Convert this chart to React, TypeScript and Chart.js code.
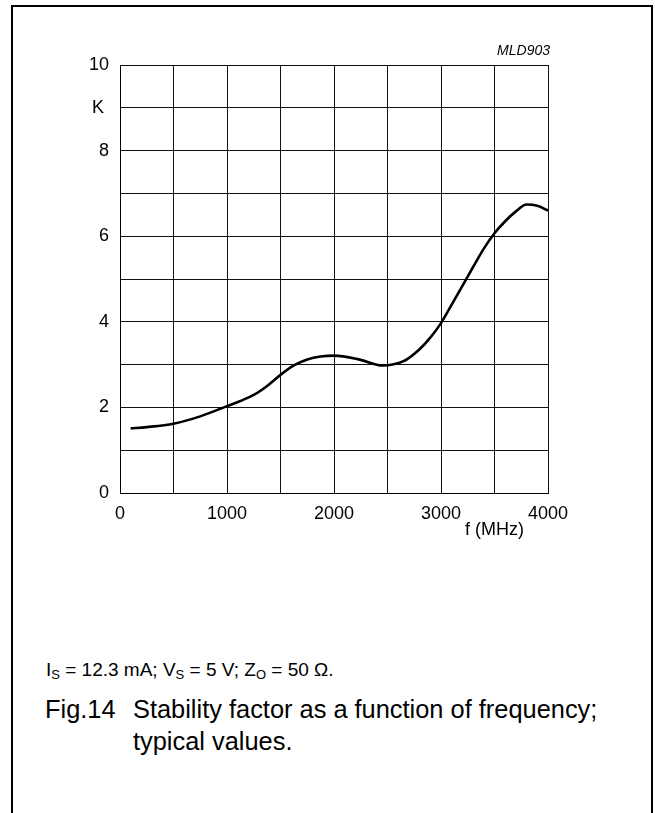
import React, { useEffect, useRef } from "react";
import { Chart, registerables } from "chart.js";

Chart.register(...registerables);

const freqMHz = [100, 250, 500, 750, 1000, 1125, 1250, 1375, 1500, 1625, 1750, 1875, 2000, 2250, 2450, 2650, 2800, 2900, 3000, 3100, 3200, 3300, 3400, 3500, 3600, 3700, 3800, 3900, 4000];
const stabilityK = [1.51, 1.54, 1.62, 1.79, 2.03, 2.15, 2.29, 2.5, 2.76, 2.98, 3.12, 3.19, 3.21, 3.11, 2.98, 3.08, 3.36, 3.63, 3.97, 4.4, 4.84, 5.28, 5.71, 6.07, 6.35, 6.58, 6.74, 6.71, 6.6];
const xTickLabels = ["0", "1000", "2000", "3000", "4000"];
const yTickLabels = ["0", "2", "4", "6", "8", "10"];

const FONT = "'Liberation Sans', Arial, Helvetica, sans-serif";

export default function App() {
  const ref = useRef<HTMLCanvasElement | null>(null);

  useEffect(() => {
    if (!ref.current) return;
    const chart = new Chart(ref.current, {
      type: "line",
      data: {
        datasets: [
          {
            data: freqMHz.map((f, i) => ({ x: f, y: stabilityK[i] })),
            borderColor: "#000",
            borderWidth: 2.6,
            pointRadius: 0,
            cubicInterpolationMode: "monotone",
            fill: false,
          },
        ],
      },
      options: {
        animation: false,
        responsive: false,
        maintainAspectRatio: false,
        layout: { padding: { left: 0, top: 65, right: 107, bottom: 0 } },
        plugins: { legend: { display: false }, tooltip: { enabled: false } },
        scales: {
          x: {
            type: "linear",
            min: 0,
            max: 4000,
            afterFit: (s: any) => {
              s.height = 67;
            },
            border: { display: true, color: "#000", width: 1 },
            grid: { color: "#111", lineWidth: 1, drawTicks: false },
            ticks: {
              stepSize: 500,
              padding: 10,
              color: "#000",
              font: { size: 18, family: FONT },
              maxRotation: 0,
              autoSkip: false,
              callback: (v: any) => {
                const s = String(v);
                return xTickLabels.includes(s) ? s : "";
              },
            },
          },
          y: {
            type: "linear",
            min: 0,
            max: 10,
            afterFit: (s: any) => {
              s.width = 120;
            },
            border: { display: true, color: "#000", width: 1 },
            grid: { color: "#111", lineWidth: 1, drawTicks: false },
            ticks: {
              stepSize: 1,
              padding: 11,
              color: "#000",
              font: { size: 18, family: FONT },
              autoSkip: false,
              callback: (v: any) => {
                const s = String(v);
                if (yTickLabels.includes(s)) return s;
                if (v === 9) return "K ";
                return "";
              },
            },
          },
        },
      },
    });
    return () => chart.destroy();
  }, []);

  const abs = (extra: React.CSSProperties): React.CSSProperties => ({
    position: "absolute",
    fontFamily: FONT,
    color: "#000",
    whiteSpace: "nowrap",
    margin: 0,
    ...extra,
  });

  const subStyle: React.CSSProperties = { fontSize: 13, verticalAlign: "-3px", lineHeight: 0 };

  return (
    <div style={{ position: "absolute", left: 0, top: 0, width: 655, height: 813, overflow: "hidden", background: "#fff" }}>
      <div
        style={{
          position: "absolute",
          left: 11,
          top: 5,
          width: 642,
          height: 830,
          boxSizing: "border-box",
          border: "2px solid #000",
          borderBottom: "none",
        }}
      />
      <canvas ref={ref} width={655} height={560} style={{ position: "absolute", left: 0, top: 0, width: 655, height: 560 }} />
      <div style={abs({ right: 105, top: 43, fontSize: 14, lineHeight: "14px", fontStyle: "italic" })}>MLD903</div>
      <div style={abs({ left: 465, top: 520, fontSize: 18, lineHeight: "18px" })}>f (MHz)</div>
      <div style={abs({ left: 46, top: 660, fontSize: 19, lineHeight: "19px" })}>
        I<sub style={subStyle}>S</sub> = 12.3 mA; V<sub style={subStyle}>S</sub> = 5 V; Z<sub style={subStyle}>O</sub> = 50 Ω.
      </div>
      <div style={abs({ left: 45, top: 693, fontSize: 25.4, lineHeight: "32px" })}>Fig.14</div>
      <div style={abs({ left: 133, top: 693, fontSize: 25.4, lineHeight: "32px" })}>
        Stability factor as a function of frequency;
        <br />
        typical values.
      </div>
    </div>
  );
}
